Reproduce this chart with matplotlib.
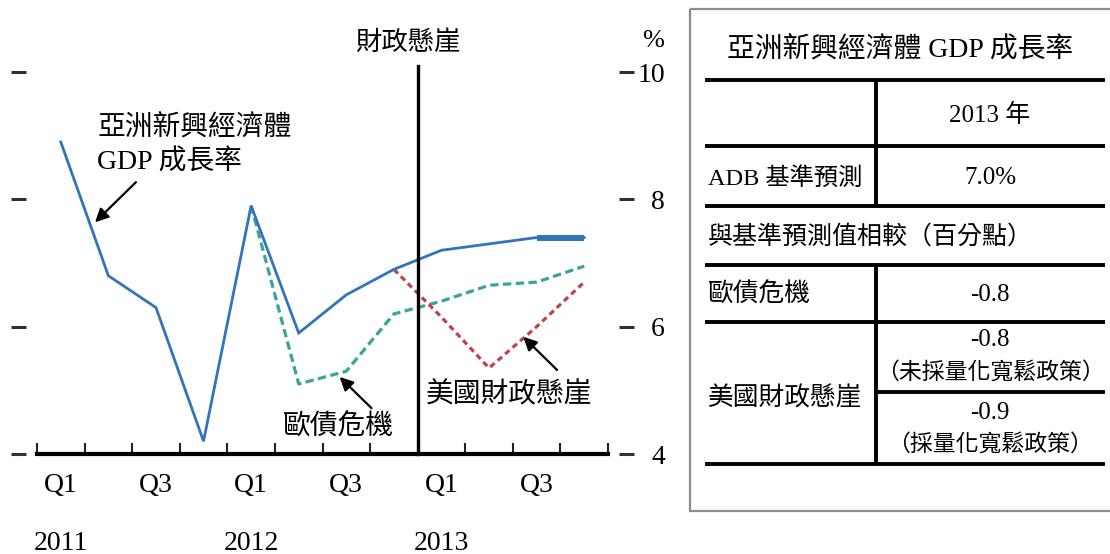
import matplotlib

matplotlib.use("Agg")

import matplotlib.pyplot as plt
import numpy as np
from matplotlib.patches import Rectangle

plt.rcParams["font.family"] = ["Liberation Serif", "Noto Sans CJK TC"]

# quarterly GDP growth of emerging Asia, 2011Q1 - 2013Q4 (%)
quarter_labels = ["Q1", "", "Q3", ""] * 3
year_labels = ["2011", "2012", "2013"]
baseline = [8.9, 6.8, 6.3, 4.2, 7.9, 5.9, 6.5, 6.9, 7.2, 7.3, 7.4, 7.4]
euro_crisis = [np.nan] * 4 + [7.9, 5.1, 5.3, 6.2, 6.4, 6.65, 6.7, 6.95]
us_cliff = [np.nan] * 7 + [6.9, 6.15, 5.35, 6.0, 6.7]

# summary table
table_title = "亞洲新興經濟體 GDP 成長率"
table_year = "2013 年"
adb_label, adb_value = "ADB 基準預測", "7.0%"
diff_header = "與基準預測值相較（百分點）"
euro_label, euro_value = "歐債危機", "-0.8"
us_label = "美國財政懸崖"
us_no_qe_value, us_no_qe_note = "-0.8", "（未採量化寬鬆政策）"
us_qe_value, us_qe_note = "-0.9", "（採量化寬鬆政策）"

BLUE = "#3174ba"
GREEN = "#3aa597"
RED = "#c2424d"

W, H = 1110, 554
fig = plt.figure(figsize=(W / 100, H / 100), dpi=100)
ax = fig.add_axes([37 / W, 1 - 454 / H, (608 - 37) / W, (454 - 72) / H])

x = np.arange(len(baseline))
ax.plot(x, euro_crisis, color=GREEN, lw=2.3, ls=(0, (2.6, 1.4)), zorder=2)
ax.plot(x, us_cliff, color=RED, lw=2.3, ls=(0, (1.8, 1.3)), zorder=2)
ax.plot(x, baseline, color=BLUE, lw=2.0, zorder=3, solid_joinstyle="miter")
ax.plot(x[-2:], baseline[-2:], color=BLUE, lw=4.3, zorder=3, solid_capstyle="butt")

ax.set_xlim(-0.5, len(baseline) - 0.5)
ax.set_ylim(4, 10)

# fiscal cliff marker between 2012Q4 and 2013Q1
ax.plot([7.5, 7.5], [4, 10.09], color="black", lw=2.4, clip_on=False, zorder=4)
ax.text(7.3, 10.46, "財政懸崖", ha="center", va="center", fontsize=19)

# axes styling
ax.spines["top"].set_visible(False)
for side in ["left", "right"]:
    ax.spines[side].set_position(("outward", 8))
    ax.spines[side].set_visible(False)
ax.spines["bottom"].set_linewidth(3.0)

ax.set_xticks(np.arange(-0.5, len(baseline)))
ax.set_xticklabels([])
ax.set_xticks(x, quarter_labels, minor=True)
ax.tick_params(axis="x", which="major", direction="in", length=8, width=1.5, color="#222222")
ax.tick_params(axis="x", which="minor", length=0, pad=14, labelsize=20)
for i, yr in enumerate(year_labels):
    ax.text(i * 4, 2.6, yr, ha="center", va="center", fontsize=20, clip_on=False)

ax.set_yticks([4, 6, 8, 10])
ax.tick_params(axis="y", left=True, right=True, labelleft=False, labelright=True,
               direction="out", length=11, width=2.2, color="#333333", pad=22, labelsize=20)
for lab in ax.get_yticklabels():
    lab.set_horizontalalignment("right")
ax.text(12.68, 10.49, "%", ha="right", va="center", fontsize=19, clip_on=False)

# series annotations
ann = dict(fontsize=20, va="center", ha="left")
ax.text(0.78, 9.11, "亞洲新興經濟體", **ann)
ax.text(0.76, 8.58, "GDP 成長率", **ann)
ax.text(4.66, 4.41, "歐債危機", **ann)
ax.text(7.68, 4.93, "美國財政懸崖", **ann)
arrow = dict(arrowstyle="-|>", color="black", lw=1.6, mutation_scale=20, shrinkA=0, shrinkB=0)
ax.annotate("", xy=(0.72, 7.64), xytext=(1.58, 8.27), arrowprops=arrow)
ax.annotate("", xy=(5.86, 5.21), xytext=(6.53, 4.72), arrowprops=arrow)
ax.annotate("", xy=(9.72, 5.84), xytext=(10.43, 5.32), arrowprops=arrow)

# table drawn on an overlay in pixel units
tab = fig.add_axes([0, 0, 1, 1])
tab.set_xlim(0, W)
tab.set_ylim(H, 0)
tab.axis("off")
tab.add_patch(Rectangle((690, 9), 440, 502, fill=False, edgecolor="#8c8c8c", lw=1.6, clip_on=False))
for yy in [80, 146, 206, 265, 322, 464]:
    tab.plot([705, 1105], [yy, yy], color="black", lw=2.8, solid_capstyle="butt")
tab.plot([876, 1105], [392, 392], color="black", lw=2.8, solid_capstyle="butt")
tab.plot([876, 876], [80, 206], color="black", lw=2.8, solid_capstyle="butt")
tab.plot([876, 876], [265, 464], color="black", lw=2.8, solid_capstyle="butt")

mid = 990
tab.text(900, 50, table_title, ha="center", va="center", fontsize=20)
tab.text(mid, 115, table_year, ha="center", va="center", fontsize=18)
tab.text(708, 178, adb_label, ha="left", va="center", fontsize=17.5)
tab.text(mid, 178, adb_value, ha="center", va="center", fontsize=18)
tab.text(708, 237, diff_header, ha="left", va="center", fontsize=18)
tab.text(708, 295, euro_label, ha="left", va="center", fontsize=18.5)
tab.text(mid, 295, euro_value, ha="center", va="center", fontsize=18)
tab.text(708, 398, us_label, ha="left", va="center", fontsize=18.5)
tab.text(mid, 340, us_no_qe_value, ha="center", va="center", fontsize=18)
tab.text(mid, 373, us_no_qe_note, ha="center", va="center", fontsize=16.5)
tab.text(mid, 413, us_qe_value, ha="center", va="center", fontsize=18)
tab.text(mid, 445, us_qe_note, ha="center", va="center", fontsize=16.5)

fig.savefig("out.png", dpi=100)
